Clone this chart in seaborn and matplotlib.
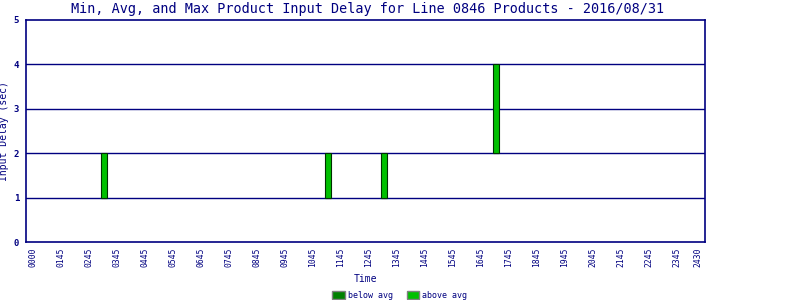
import matplotlib
matplotlib.use("Agg")
import matplotlib.pyplot as plt
from matplotlib.patches import Patch
import seaborn as sns
import pandas as pd

# ---- data ----
bar_times = [3.29, 11.29, 13.29, 17.29]      # hour of day (decimal)
min_delay = [1, 1, 1, 2]
avg_delay = [1, 1, 1, 2]
max_delay = [2, 2, 2, 4]
tick_pos = [0.75] + [h + 0.75 for h in range(1, 24)] + [24.5]
tick_labels = ["0000"] + ["%02d45" % h for h in range(1, 24)] + ["2430"]
legend_labels = ["below avg", "above avg"]

NAVY = "#000080"
BELOW = "#008000"
ABOVE = "#00C000"

sns.set_theme(style="white")
plt.rcParams["font.family"] = ["DejaVu Sans Mono", "DejaVu Sans"]

df = pd.DataFrame({"t": bar_times, "mn": min_delay, "av": avg_delay, "mx": max_delay})
df["below_h"] = df["av"] - df["mn"]
df["above_h"] = df["mx"] - df["av"]

fig = plt.figure(figsize=(8, 3), dpi=100)
ax = fig.add_axes([26 / 800, 1 - 242 / 300, (705 - 26) / 800, (242 - 20) / 300])

for y in [1, 2, 3, 4]:
    ax.axhline(y, color=NAVY, lw=1.0, zorder=1)

sns.barplot(data=df, x="t", y="below_h", native_scale=True, width=0.1,
            bottom=df["mn"].to_numpy(), color=BELOW, saturation=1,
            edgecolor="#003000", linewidth=0.8, ax=ax, zorder=3)
sns.barplot(data=df, x="t", y="above_h", native_scale=True, width=0.1,
            bottom=df["av"].to_numpy(), color=ABOVE, saturation=1,
            edgecolor="#003000", linewidth=0.8, ax=ax, zorder=3)

ax.set_xlim(0.5, 24.75)
ax.set_ylim(0, 5)
ax.set_xticks(tick_pos)
ax.set_xticklabels(tick_labels, rotation=90, fontsize=5.8, color=NAVY)
ax.set_yticks([0, 1, 2, 3, 4, 5])
ax.set_yticklabels(["0", "1", "2", "3", "4", "5"], fontsize=6.5, color=NAVY,
                   fontweight="bold")
ax.tick_params(axis="both", length=0, pad=4)
ax.tick_params(axis="y", pad=5)
for s in ax.spines.values():
    s.set_color(NAVY)
    s.set_linewidth(1.2)
ax.set_xlabel("Time", fontsize=7, color=NAVY, labelpad=5)
ax.set_ylabel("Input Delay (sec)", fontsize=7, color=NAVY)
ax.yaxis.set_label_coords(-0.025, 0.5)
ax.grid(False)

fig.suptitle("Min, Avg, and Max Product Input Delay for Line 0846 Products - 2016/08/31",
             fontsize=9.75, color=NAVY, y=0.993, x=0.46)

handles = [Patch(facecolor=BELOW, edgecolor="#808080", linewidth=1.0),
           Patch(facecolor=ABOVE, edgecolor="#808080", linewidth=1.0)]
fig.legend(handles, legend_labels, loc="lower center", bbox_to_anchor=(0.5, -0.025),
           ncol=2, frameon=False, fontsize=6, labelcolor=NAVY,
           handlelength=1.5, handleheight=1.0, handletextpad=0.4, columnspacing=1.6)

fig.savefig("out.png", dpi=100)
